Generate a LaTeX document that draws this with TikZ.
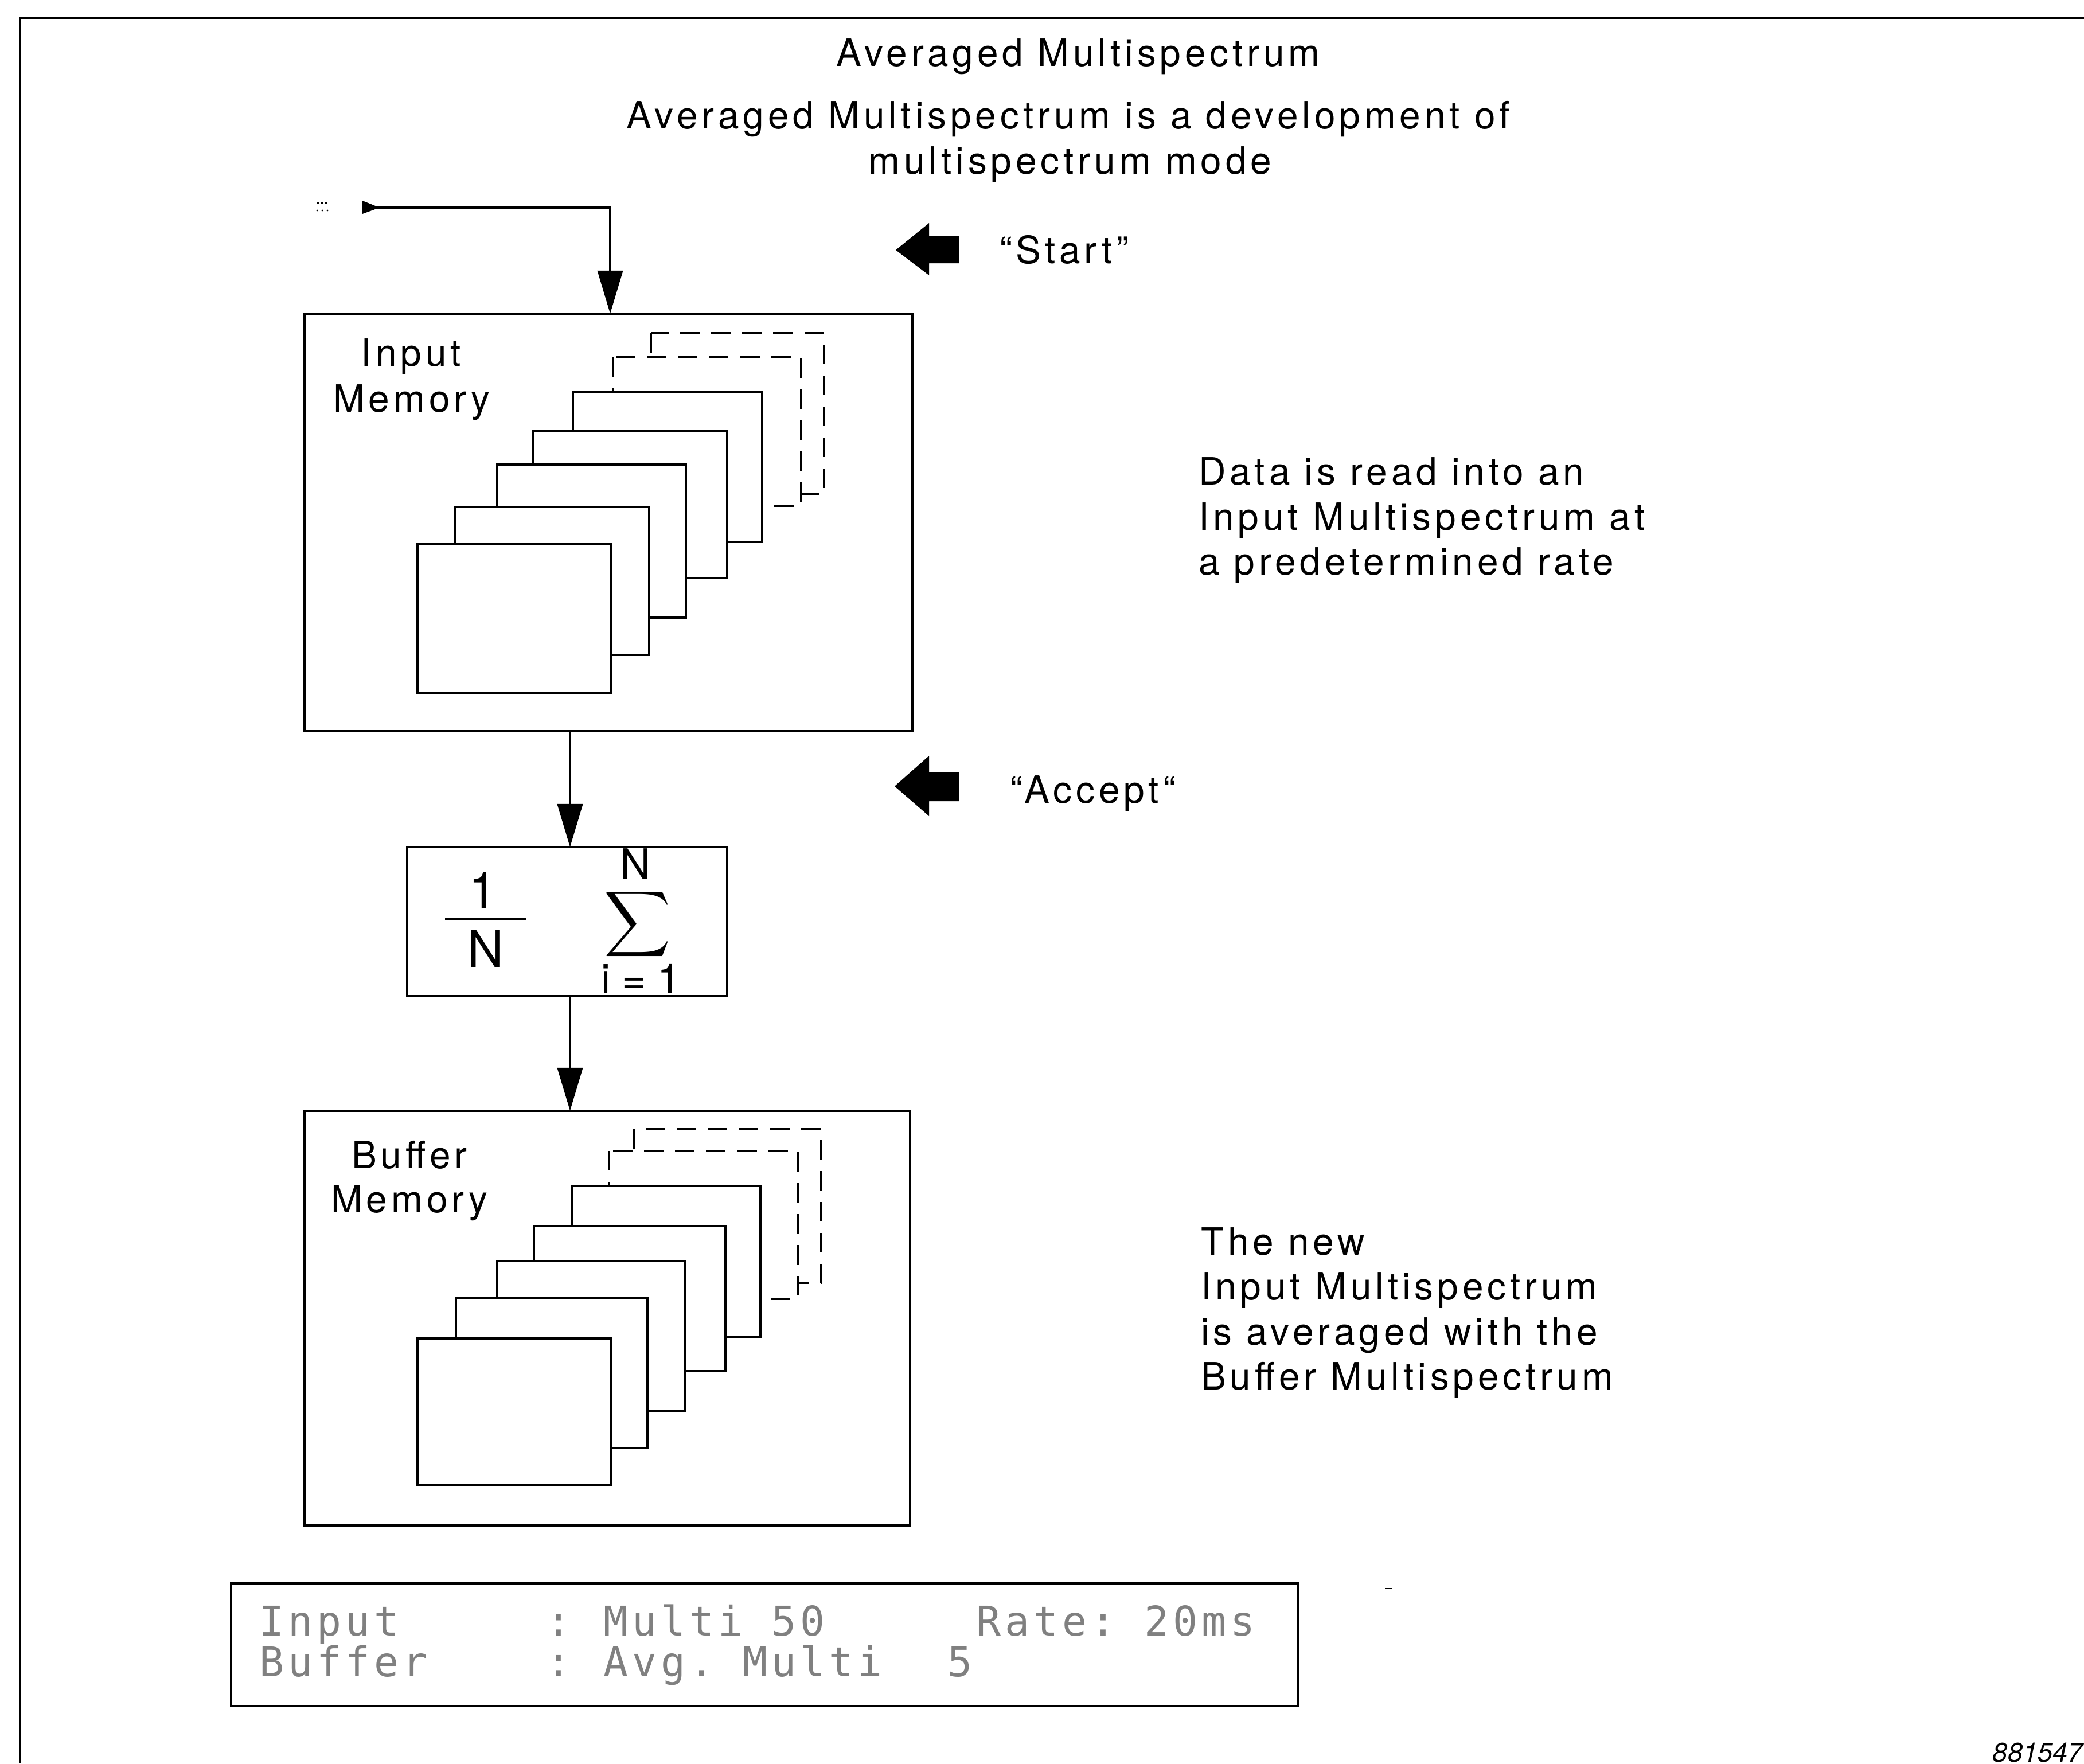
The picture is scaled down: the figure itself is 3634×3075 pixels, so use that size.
\documentclass[tikz,border=0pt]{standalone}
\usepackage{fontspec}
\usepackage{graphicx}
\setmainfont{TeX Gyre Heros}[LetterSpace=10.5]
\newfontfamily\plainsf{TeX Gyre Heros}
\newfontfamily\lcdfont{DejaVu Sans Mono}[LetterSpace=10]
\usetikzlibrary{arrows.meta}

\begin{document}
\begin{tikzpicture}[x=0.01cm,y=-0.01cm,
  every node/.style={inner sep=0pt, outer sep=0pt},
  txt/.style={font=\fontsize{18.7pt}{22.4pt}\selectfont},
  box/.style={draw, line width=1.15pt, fill=white, inner sep=0pt},
  frame/.style={draw, line width=1.15pt, fill=white},
  dframe/.style={frame, dash pattern=on 0.34cm off 0.2cm},
  conn/.style={line width=1.1pt, -{Triangle[length=0.75cm,width=0.44cm]}},
  lcd/.style={font=\lcdfont\fontsize{20.3pt}{24pt}\selectfont, text=black!50, anchor=base west},
  fig/.style={font=\plainsf\fontsize{25pt}{30pt}\selectfont, anchor=base},
]
\useasboundingbox (0,0) rectangle (3634,3075);

% outer frame lines
\draw[line width=1.15pt] (3634,32) -- (35,32) -- (35,3075);

% title texts
\node[txt, anchor=base] (title) at (1880,115) {Averaged Multispectrum};
\node[txt, anchor=base] (sub1) at (1863,224) {Averaged Multispectrum is a development of};
\node[txt, anchor=base] (sub2) at (1866,303) {multispectrum mode};

% boxes
\node[box, minimum width=10.60cm, minimum height=7.28cm] (inmem) at (1061,911) {};
\node[box, minimum width=5.58cm, minimum height=2.60cm] (sigbox) at (989,1607) {};
\node[box, minimum width=10.56cm, minimum height=7.23cm] (bufmem) at (1059,2298.5) {};
\node[box, minimum width=18.58cm, minimum height=2.14cm] (status) at (1333,2868) {};

% entry connector
\draw[line width=0.6pt, dash pattern=on 0.04cm off 0.03cm] (552,354) -- (573,354);
\fill (553,367) circle (1.6) (562,367) circle (1.6) (571,367) circle (1.6);
\coordinate (entry) at (640,362);
\coordinate (corner) at (1064,362);
\fill (632,350) -- (662,362) -- (632,373) -- cycle;
\draw[conn] (entry) -- (corner) -- (inmem.north -| corner);

% connectors between boxes
\coordinate (cx) at (994,0);
\draw[conn] (inmem.south -| cx) -- (sigbox.north -| cx);
\draw[conn] (sigbox.south -| cx) -- (bufmem.north -| cx);

% input memory contents
\node[txt, anchor=base] (inlab1) at (717,638) {Input};
\node[txt, anchor=base] (inlab2) at (718,718) {Memory};
\draw[dframe] (1135,581) rectangle (1437,862);
\draw[dframe] (1069,623) rectangle (1397,882);
\draw[frame] (999,683) rectangle (1329,945);
\draw[frame] (930,751) rectangle (1268,1008);
\draw[frame] (867,810) rectangle (1196,1077);
\draw[frame] (794,884) rectangle (1132,1142);
\draw[frame] (728,949) rectangle (1065,1209);

% buffer memory contents
\node[txt, anchor=base] (bflab1) at (714,2037) {Buffer};
\node[txt, anchor=base] (bflab2) at (714,2114) {Memory};
\draw[dframe] (1105,1969) rectangle (1432,2237);
\draw[dframe] (1062,2007) rectangle (1392,2265);
\draw[frame] (997,2068) rectangle (1326,2331);
\draw[frame] (931,2138) rectangle (1265,2391);
\draw[frame] (867,2199) rectangle (1194,2461);
\draw[frame] (795,2264) rectangle (1129,2525);
\draw[frame] (728,2334) rectangle (1065,2590);

% averaging box contents
\node[fig] (one) at (842,1583) {1};
\node[fig] (nn) at (847,1686) {N};
\draw[line width=1.1pt] (776,1602) -- (917,1602);
\node (sigma) at (1112,1612) {\resizebox*{1.16cm}{1.28cm}{$\displaystyle\sum$}};
\node[font=\plainsf\fontsize{21pt}{25pt}\selectfont, anchor=base] (nup) at (1108,1533) {N};
\node[font=\plainsf\fontsize{20.5pt}{25pt}\selectfont, anchor=base west] (ilow) at (1048,1732) {i = 1};

% block arrows and labels
\fill (1562,436) -- (1620,389) -- (1620,412) -- (1672,412) -- (1672,459) -- (1620,459) -- (1620,480) -- cycle;
\node[txt, anchor=base west] (start) at (1743,459) {“Start”};
\fill (1560,1371) -- (1620,1318) -- (1620,1346) -- (1672,1346) -- (1672,1397) -- (1620,1397) -- (1620,1423) -- cycle;
\node[txt, anchor=base west] (accept) at (1761,1400) {“Accept“};

% right-hand descriptions
\node[txt, anchor=base west] (d1) at (2090,845) {Data is read into an};
\node[txt, anchor=base west] (d2) at (2090,924) {Input Multispectrum at};
\node[txt, anchor=base west] (d3) at (2090,1002) {a predetermined rate};
\node[txt, anchor=base west] (n1) at (2094,2188) {The new};
\node[txt, anchor=base west] (n2) at (2094,2266) {Input Multispectrum};
\node[txt, anchor=base west] (n3) at (2094,2345) {is averaged with the};
\node[txt, anchor=base west] (n4) at (2094,2423) {Buffer Multispectrum};

% status display
\node[lcd] (s1) at (452,2852) {Input};
\node[lcd] (s2) at (952,2852) {:};
\node[lcd] (s3) at (1052,2852) {Multi~50};
\node[lcd] (s4) at (1702,2852) {Rate:~20ms};
\node[lcd] (s5) at (452,2923) {Buffer};
\node[lcd] (s6) at (952,2923) {:};
\node[lcd] (s7) at (1052,2923) {Avg.~Multi};
\node[lcd] (s8) at (1652,2923) {5};
\draw[line width=0.8pt] (2415,2770) -- (2428,2770);

% figure number
\node[font=\plainsf\itshape\fontsize{13.4pt}{16pt}\selectfont, anchor=base east] (fignum) at (3632,3072) {881547};
\end{tikzpicture}
\end{document}
